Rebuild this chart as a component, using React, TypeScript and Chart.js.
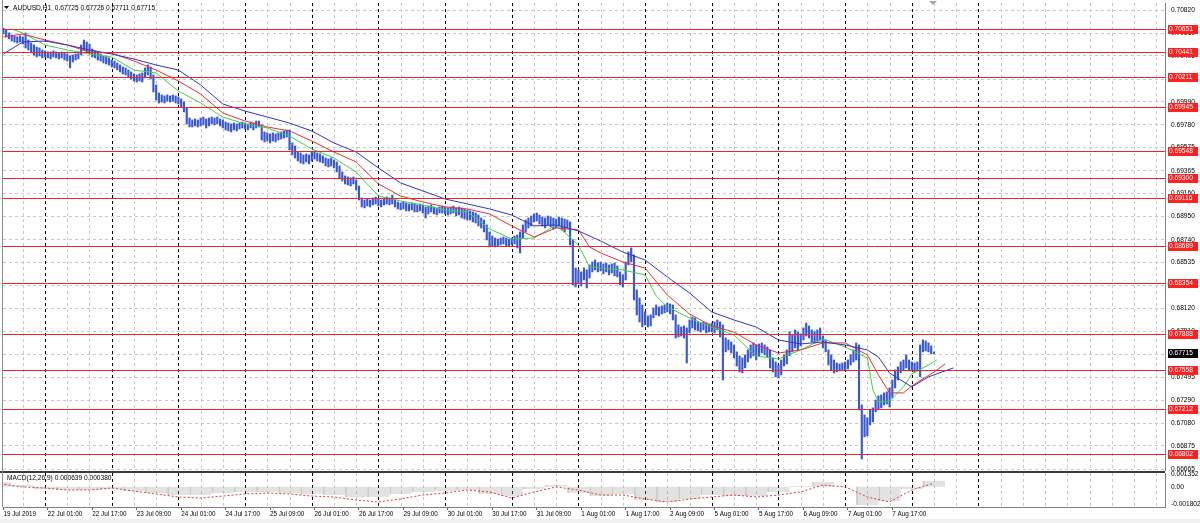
import React, { useEffect, useRef } from 'react';
import { Chart, registerables } from 'chart.js';

Chart.register(...registerables);

// ---------- DATA ----------
const symbolTitle = 'AUDUSD,H1';
const lastOHLC = [0.67725, 0.67726, 0.67711, 0.67715];
const currentPrice = 0.67715;

// hourly bars (index 0 = 19 Jul 2019 08:00)
const barHighs = [
  0.70640, 0.70658, 0.70640, 0.70613, 0.70595, 0.70586, 0.70577, 0.70586, 0.70577, 0.70613, 0.70549, 0.70522, 0.70504, 0.70486, 0.70477, 0.70459,
  0.70450, 0.70441, 0.70441, 0.70450, 0.70441, 0.70432, 0.70441, 0.70432, 0.70423, 0.70405, 0.70414, 0.70423, 0.70441, 0.70504, 0.70549, 0.70531, 0.70513, 0.70468, 0.70450, 0.70432, 0.70423, 0.70405, 0.70396, 0.70387,
  0.70368, 0.70359, 0.70341, 0.70323, 0.70305, 0.70296, 0.70278, 0.70260, 0.70242, 0.70233, 0.70242, 0.70251, 0.70296, 0.70323, 0.70305, 0.70233, 0.70142, 0.70070, 0.70052, 0.70043, 0.70052, 0.70043, 0.70052, 0.70043,
  0.70034, 0.70016, 0.69988, 0.69934, 0.69843, 0.69825, 0.69834, 0.69825, 0.69843, 0.69852, 0.69834, 0.69843, 0.69852, 0.69843, 0.69852, 0.69834, 0.69825, 0.69807, 0.69798, 0.69789, 0.69798, 0.69789, 0.69798, 0.69807,
  0.69798, 0.69789, 0.69807, 0.69798, 0.69816, 0.69816, 0.69780, 0.69717, 0.69708, 0.69699, 0.69708, 0.69699, 0.69708, 0.69717, 0.69726, 0.69735, 0.69735, 0.69617, 0.69590, 0.69536, 0.69527, 0.69509, 0.69518, 0.69509,
  0.69536, 0.69545, 0.69527, 0.69518, 0.69500, 0.69482, 0.69473, 0.69482, 0.69463, 0.69445, 0.69409, 0.69355, 0.69319, 0.69310, 0.69301, 0.69310, 0.69282, 0.69228, 0.69119, 0.69101, 0.69110, 0.69101, 0.69119, 0.69128,
  0.69110, 0.69101, 0.69119, 0.69128, 0.69119, 0.69146, 0.69101, 0.69083, 0.69074, 0.69083, 0.69074, 0.69065, 0.69074, 0.69065, 0.69056, 0.69065, 0.69056, 0.69038, 0.69047, 0.69056, 0.69038, 0.69029, 0.69038, 0.69047,
  0.69038, 0.69029, 0.69038, 0.69047, 0.69029, 0.69038, 0.69029, 0.69020, 0.69011, 0.69002, 0.68993, 0.68984, 0.68966, 0.68938, 0.68920, 0.68875, 0.68812, 0.68775, 0.68757, 0.68748, 0.68757, 0.68766, 0.68757, 0.68748,
  0.68757, 0.68775, 0.68784, 0.68812, 0.68875, 0.68920, 0.68938, 0.68956, 0.68974, 0.68983, 0.68965, 0.68947, 0.68938, 0.68956, 0.68947, 0.68938, 0.68929, 0.68947, 0.68938, 0.68929, 0.68920, 0.68902, 0.68739, 0.68486,
  0.68468, 0.68450, 0.68486, 0.68468, 0.68513, 0.68540, 0.68558, 0.68531, 0.68540, 0.68522, 0.68531, 0.68513, 0.68522, 0.68531, 0.68504, 0.68450, 0.68423, 0.68540, 0.68631, 0.68667, 0.68604, 0.68287, 0.68214, 0.68151,
  0.68088, 0.68052, 0.68061, 0.68124, 0.68151, 0.68133, 0.68142, 0.68151, 0.68169, 0.68160, 0.68151, 0.68061, 0.67970, 0.67952, 0.67961, 0.67943, 0.68015, 0.68042, 0.68033, 0.67997, 0.67988, 0.67997, 0.67988, 0.67979,
  0.67988, 0.67997, 0.68015, 0.67997, 0.67970, 0.67852, 0.67834, 0.67816, 0.67789, 0.67726, 0.67690, 0.67672, 0.67699, 0.67744, 0.67789, 0.67807, 0.67789, 0.67798, 0.67807, 0.67789, 0.67771, 0.67744, 0.67672, 0.67635,
  0.67608, 0.67653, 0.67699, 0.67744, 0.67907, 0.67880, 0.67925, 0.67907, 0.67889, 0.67943, 0.67988, 0.67961, 0.67925, 0.67907, 0.67925, 0.67943, 0.67870, 0.67834, 0.67744, 0.67699, 0.67653, 0.67626, 0.67617, 0.67626,
  0.67635, 0.67653, 0.67699, 0.67744, 0.67807, 0.67789, 0.67246, 0.67156, 0.67129, 0.67201, 0.67219, 0.67291, 0.67327, 0.67336, 0.67355, 0.67364, 0.67400, 0.67472, 0.67563, 0.67590, 0.67635, 0.67653, 0.67699, 0.67653,
  0.67635, 0.67626, 0.67635, 0.67789, 0.67834, 0.67825, 0.67807, 0.67780, 0.67726,
];
const barLows = [
  0.70586, 0.70604, 0.70577, 0.70559, 0.70540, 0.70531, 0.70522, 0.70531, 0.70513, 0.70477, 0.70459, 0.70432, 0.70414, 0.70396, 0.70405, 0.70387,
  0.70396, 0.70387, 0.70378, 0.70396, 0.70387, 0.70378, 0.70387, 0.70368, 0.70359, 0.70296, 0.70350, 0.70368, 0.70378, 0.70414, 0.70459, 0.70441, 0.70423, 0.70396, 0.70387, 0.70368, 0.70359, 0.70341, 0.70332, 0.70323,
  0.70305, 0.70296, 0.70278, 0.70260, 0.70242, 0.70233, 0.70215, 0.70197, 0.70178, 0.70169, 0.70178, 0.70169, 0.70206, 0.70233, 0.70197, 0.70079, 0.70006, 0.69979, 0.69988, 0.69979, 0.69997, 0.69988, 0.69997, 0.69979,
  0.69970, 0.69943, 0.69898, 0.69789, 0.69762, 0.69762, 0.69771, 0.69762, 0.69771, 0.69780, 0.69753, 0.69771, 0.69789, 0.69780, 0.69789, 0.69771, 0.69753, 0.69735, 0.69726, 0.69717, 0.69735, 0.69726, 0.69744, 0.69753,
  0.69744, 0.69735, 0.69753, 0.69735, 0.69753, 0.69762, 0.69644, 0.69626, 0.69635, 0.69617, 0.69635, 0.69626, 0.69644, 0.69653, 0.69662, 0.69671, 0.69554, 0.69509, 0.69481, 0.69454, 0.69436, 0.69427, 0.69445, 0.69427,
  0.69454, 0.69472, 0.69454, 0.69445, 0.69436, 0.69409, 0.69400, 0.69409, 0.69391, 0.69355, 0.69300, 0.69273, 0.69246, 0.69237, 0.69228, 0.69246, 0.69192, 0.69101, 0.69038, 0.69029, 0.69047, 0.69038, 0.69056, 0.69065,
  0.69047, 0.69038, 0.69056, 0.69065, 0.69056, 0.69065, 0.69038, 0.69020, 0.69011, 0.69020, 0.69002, 0.69002, 0.69011, 0.68993, 0.68993, 0.69002, 0.68984, 0.68938, 0.68975, 0.68993, 0.68975, 0.68966, 0.68984, 0.68984,
  0.68975, 0.68966, 0.68975, 0.68984, 0.68957, 0.68966, 0.68938, 0.68929, 0.68920, 0.68920, 0.68902, 0.68893, 0.68866, 0.68848, 0.68812, 0.68739, 0.68676, 0.68685, 0.68676, 0.68685, 0.68694, 0.68703, 0.68685, 0.68685,
  0.68694, 0.68703, 0.68667, 0.68621, 0.68757, 0.68812, 0.68848, 0.68866, 0.68902, 0.68911, 0.68884, 0.68866, 0.68848, 0.68875, 0.68857, 0.68839, 0.68848, 0.68866, 0.68830, 0.68812, 0.68848, 0.68694, 0.68332, 0.68314,
  0.68341, 0.68323, 0.68377, 0.68305, 0.68395, 0.68450, 0.68468, 0.68450, 0.68459, 0.68432, 0.68450, 0.68423, 0.68441, 0.68414, 0.68405, 0.68332, 0.68314, 0.68377, 0.68513, 0.68540, 0.68196, 0.68060, 0.67997, 0.67952,
  0.67970, 0.67952, 0.67961, 0.68033, 0.68061, 0.68052, 0.68070, 0.68079, 0.68088, 0.68070, 0.68015, 0.67852, 0.67861, 0.67870, 0.67852, 0.67626, 0.67898, 0.67943, 0.67925, 0.67916, 0.67907, 0.67925, 0.67898, 0.67907,
  0.67907, 0.67898, 0.67925, 0.67861, 0.67472, 0.67726, 0.67744, 0.67717, 0.67671, 0.67599, 0.67545, 0.67536, 0.67581, 0.67635, 0.67671, 0.67690, 0.67653, 0.67690, 0.67717, 0.67699, 0.67681, 0.67581, 0.67545, 0.67500,
  0.67490, 0.67518, 0.67599, 0.67617, 0.67690, 0.67726, 0.67762, 0.67744, 0.67780, 0.67834, 0.67870, 0.67852, 0.67816, 0.67807, 0.67825, 0.67834, 0.67762, 0.67726, 0.67608, 0.67563, 0.67536, 0.67545, 0.67554, 0.67563,
  0.67563, 0.67572, 0.67608, 0.67635, 0.67653, 0.67201, 0.66757, 0.66957, 0.66966, 0.67065, 0.67092, 0.67183, 0.67201, 0.67219, 0.67246, 0.67255, 0.67228, 0.67310, 0.67400, 0.67472, 0.67536, 0.67563, 0.67581, 0.67554,
  0.67554, 0.67545, 0.67563, 0.67500, 0.67726, 0.67735, 0.67726, 0.67708, 0.67711,
];

// moving averages as [bar index, price]
const maSlow = [
  [1, 0.70422], [8, 0.70531], [16, 0.70540], [24, 0.70504], [32, 0.70459], [40, 0.70422], [48, 0.70377], [56, 0.70323],
  [64, 0.70277], [72, 0.70142], [80, 0.69970], [88, 0.69906], [96, 0.69852], [104, 0.69797], [112, 0.69726], [120, 0.69617],
  [128, 0.69535], [136, 0.69391], [144, 0.69255], [152, 0.69183], [160, 0.69110], [168, 0.69065], [176, 0.69020], [184, 0.68965],
  [192, 0.68866], [200, 0.68875], [208, 0.68821], [216, 0.68730], [224, 0.68630], [232, 0.68558], [240, 0.68404], [248, 0.68259],
  [256, 0.68087], [264, 0.68015], [272, 0.67951], [280, 0.67834], [288, 0.67798], [296, 0.67816], [304, 0.67789], [312, 0.67744],
  [316, 0.67680], [320, 0.67535], [328, 0.67409], [334, 0.67500], [343, 0.67581],
];
const maMid = [
  [1, 0.70576], [8, 0.70603], [16, 0.70549], [24, 0.70504], [32, 0.70440], [40, 0.70430], [48, 0.70359], [56, 0.70277],
  [64, 0.70178], [72, 0.70060], [80, 0.69888], [88, 0.69816], [96, 0.69762], [104, 0.69726], [112, 0.69635], [120, 0.69535],
  [128, 0.69445], [136, 0.69246], [144, 0.69137], [152, 0.69083], [160, 0.69038], [168, 0.69020], [176, 0.68975], [184, 0.68866],
  [192, 0.68766], [200, 0.68848], [208, 0.68830], [212, 0.68676], [216, 0.68621], [224, 0.68540], [232, 0.68485], [240, 0.68241],
  [248, 0.68069], [256, 0.67961], [264, 0.67906], [272, 0.67789], [280, 0.67716], [288, 0.67744], [296, 0.67807], [304, 0.67807],
  [312, 0.67698], [316, 0.67517], [320, 0.67355], [325, 0.67355], [328, 0.67418], [336, 0.67544], [340, 0.67617],
];
const maFast = [
  [5, 0.70640], [8, 0.70612], [16, 0.70504], [24, 0.70459], [32, 0.70422], [40, 0.70395], [48, 0.70277], [56, 0.70250],
  [64, 0.70087], [72, 0.69979], [80, 0.69852], [88, 0.69789], [96, 0.69753], [104, 0.69680], [112, 0.69563], [120, 0.69481],
  [128, 0.69354], [136, 0.69137], [144, 0.69092], [152, 0.69056], [160, 0.69011], [168, 0.68993], [176, 0.68839], [184, 0.68748],
  [192, 0.68757], [200, 0.68875], [208, 0.68694], [212, 0.68495], [216, 0.68485], [224, 0.68468], [232, 0.68422], [236, 0.68232],
  [240, 0.68133], [248, 0.68033], [256, 0.67951], [264, 0.67879], [272, 0.67689], [280, 0.67662], [288, 0.67744], [296, 0.67843],
  [304, 0.67771], [312, 0.67671], [314, 0.67382], [316, 0.67273], [320, 0.67282], [325, 0.67409], [328, 0.67526], [334, 0.67608],
  [337, 0.67653],
];

// horizontal levels (red lines)
const levelPrices = [0.70651, 0.70441, 0.70211, 0.69945, 0.69548, 0.69300, 0.69116, 0.68689, 0.68354, 0.67888, 0.67558, 0.67212, 0.66802];

// price axis
const priceTicks = [
  0.70820, 0.70610, 0.70405, 0.70195, 0.69990, 0.69780, 0.69575, 0.69365, 0.69160, 0.68950, 0.68740,
  0.68535, 0.68325, 0.68120, 0.67910, 0.67705, 0.67495, 0.67290, 0.67080, 0.66875, 0.66665,
];

// MACD(12,26,9) sampled every 8 bars
const macdBars = [0, 8, 16, 24, 32, 40, 48, 56, 64, 72, 80, 88, 96, 104, 112, 120, 128, 136, 144, 152, 160, 168,
  176, 184, 192, 200, 208, 216, 224, 232, 240, 248, 256, 264, 272, 280, 288, 296, 304, 312, 320, 328, 336];
const macdMain = [0.00050, 0.00018, -0.00024, -0.00035, -0.00035, -0.00024, -0.00046, -0.00067, -0.00088, -0.00088,
  -0.00067, -0.00056, -0.00056, -0.00067, -0.00077, -0.00088, -0.00109, -0.00109, -0.00077, -0.00056, -0.00046,
  -0.00035, -0.00077, -0.00099, -0.00024, 0.00018, -0.00067, -0.00099, -0.00077, -0.00141, -0.00162, -0.00130,
  -0.00088, -0.00099, -0.00099, -0.00056, 0.00007, 0.00050, -0.00003, -0.00194, -0.00152, -0.00024, 0.000639];
const macdSignal = [0.00029, -0.00003, -0.00014, -0.00035, -0.00035, -0.00014, -0.00046, -0.00077, -0.00109, -0.00120,
  -0.00099, -0.00077, -0.00067, -0.00077, -0.00099, -0.00109, -0.00141, -0.00162, -0.00130, -0.00088, -0.00067,
  -0.00035, -0.00056, -0.00120, -0.00056, -0.00003, -0.00035, -0.00088, -0.00088, -0.00130, -0.00162, -0.00130,
  -0.00109, -0.00088, -0.00109, -0.00088, -0.00056, 0.00018, -0.00003, -0.00109, -0.00162, -0.00035, 0.000380];
const macdTicks = [0.001352, 0, -0.001802];
const macdTickLabels = ['0.001352', '0.00', '-0.001802'];

// time axis
const timeLabelBars = [1, 17, 33, 49, 65, 81, 97, 113, 129, 145, 161, 177, 193, 209, 225, 241, 257, 273, 289, 305, 321];
const timeLabels = ['19 Jul 2019', '22 Jul 01:00', '22 Jul 17:00', '23 Jul 09:00', '24 Jul 01:00', '24 Jul 17:00',
  '25 Jul 09:00', '26 Jul 01:00', '26 Jul 17:00', '29 Jul 09:00', '30 Jul 01:00', '30 Jul 17:00', '31 Jul 09:00',
  '1 Aug 01:00', '1 Aug 17:00', '2 Aug 09:00', '5 Aug 01:00', '5 Aug 17:00', '6 Aug 09:00', '7 Aug 01:00', '7 Aug 17:00'];
const daySeparatorBars = [16, 40, 64, 88, 112, 136, 160, 184, 208, 232, 256, 280, 304, 328, 352];

// ---------- LAYOUT / STYLE ----------
const X_MIN = 0.864;
const X_MAX = 419.15;
const FONT = '"Liberation Sans", Arial, sans-serif';
const GRID_GRAY = '#c8c8c8';

const gridBars: number[] = [];
for (let b = 0; b <= 416; b += 8) gridBars.push(b);

const zeroPad = (s: any) => {
  s.paddingLeft = 0; s.paddingRight = 0; s.paddingTop = 0; s.paddingBottom = 0;
};

const bgPlugin = {
  id: 'bg',
  beforeDraw(chart: any) {
    const { ctx, width, height } = chart;
    ctx.save();
    ctx.fillStyle = '#ffffff';
    ctx.fillRect(0, 0, width, height);
    ctx.restore();
  },
};

const vGridPlugin = {
  id: 'vgrid',
  beforeDatasetsDraw(chart: any) {
    const { ctx, chartArea: a, scales } = chart;
    const x = scales.x;
    ctx.save();
    ctx.beginPath();
    ctx.rect(a.left, a.top, a.right - a.left, a.bottom - a.top);
    ctx.clip();
    ctx.lineWidth = 1;
    ctx.setLineDash([3, 3]);
    ctx.strokeStyle = GRID_GRAY;
    for (const b of gridBars) {
      const px = Math.round(x.getPixelForValue(b)) + 0.5;
      ctx.beginPath(); ctx.moveTo(px, a.top); ctx.lineTo(px, a.bottom); ctx.stroke();
    }
    ctx.strokeStyle = '#000000';
    for (const b of daySeparatorBars) {
      const px = Math.round(x.getPixelForValue(b)) + 0.5;
      ctx.beginPath(); ctx.moveTo(px, a.top); ctx.lineTo(px, a.bottom); ctx.stroke();
    }
    ctx.restore();
  },
};

const levelsPlugin = {
  id: 'levels',
  afterDatasetsDraw(chart: any) {
    const { ctx, chartArea: a, scales } = chart;
    ctx.save();
    ctx.strokeStyle = '#e62828';
    ctx.lineWidth = 1;
    for (const p of levelPrices) {
      const py = Math.round(scales.y.getPixelForValue(p)) + 0.5;
      ctx.beginPath(); ctx.moveTo(a.left, py); ctx.lineTo(a.right, py); ctx.stroke();
    }
    ctx.restore();
  },
  afterDraw(chart: any) {
    const { ctx, chartArea: a, scales } = chart;
    ctx.save();
    ctx.font = `6.6px ${FONT}`;
    ctx.textBaseline = 'middle';
    ctx.textAlign = 'left';
    const box = (p: number, bg: string) => {
      const py = Math.round(scales.y.getPixelForValue(p));
      ctx.fillStyle = bg;
      ctx.fillRect(a.right + 3, py - 4, 30, 9);
      ctx.fillStyle = '#ffffff';
      ctx.fillText(p.toFixed(5), a.right + 4, py + 0.5);
    };
    for (const p of levelPrices) box(p, '#ff2020');
    box(currentPrice, '#000000');
    // header
    ctx.fillStyle = '#000000';
    ctx.beginPath(); ctx.moveTo(4, 6); ctx.lineTo(9, 6); ctx.lineTo(6.5, 9); ctx.closePath(); ctx.fill();
    ctx.font = `6.6px ${FONT}`;
    ctx.fillText(`${symbolTitle}  ${lastOHLC.map((v) => v.toFixed(5)).join(' ')}`, 13, 8.5);
    // chart shift marker
    ctx.fillStyle = '#a8a8a8';
    ctx.beginPath(); ctx.moveTo(929, 1); ctx.lineTo(937, 1); ctx.lineTo(933, 5); ctx.closePath(); ctx.fill();
    // left border
    ctx.fillStyle = '#8c8c8c';
    ctx.fillRect(2, 0, 1, chart.height);
    ctx.restore();
  },
};

const macdDecorPlugin = {
  id: 'macdDecor',
  afterDraw(chart: any) {
    const { ctx, chartArea: a } = chart;
    ctx.save();
    ctx.fillStyle = '#3a3a3a';
    ctx.fillRect(0, 0, a.right, 2);
    ctx.fillStyle = '#8c8c8c';
    ctx.fillRect(2, 0, 1, a.bottom);
    ctx.fillStyle = '#f0f0f0';
    ctx.fillRect(0, 48, chart.width, chart.height - 48);
    ctx.fillStyle = '#000000';
    ctx.font = `6.6px ${FONT}`;
    ctx.textBaseline = 'middle';
    ctx.textAlign = 'left';
    const n = macdMain.length - 1;
    ctx.fillText(`MACD(12,26,9) ${macdMain[n].toFixed(6)} ${macdSignal[n].toFixed(6)}`, 7, 7.5);
    ctx.restore();
  },
};

function buildMain(canvas: HTMLCanvasElement) {
  const barData = barHighs.map((h, i) => ({ x: i, y: [barLows[i], h] }));
  const toXY = (pairs: number[][]) => pairs.map(([x, y]) => ({ x, y }));
  return new Chart(canvas, {
    type: 'bar',
    data: {
      datasets: [
        { type: 'line', data: toXY(maSlow), borderColor: '#3434c8', borderWidth: 1, pointRadius: 0, tension: 0, order: 1 } as any,
        { type: 'line', data: toXY(maMid), borderColor: '#e63232', borderWidth: 1, pointRadius: 0, tension: 0, order: 1 } as any,
        { type: 'line', data: toXY(maFast), borderColor: '#3ed23e', borderWidth: 1, pointRadius: 0, tension: 0, order: 1 } as any,
        { type: 'bar', data: barData, backgroundColor: '#3858d8', borderWidth: 0, barThickness: 1.5, grouped: false, order: 2 } as any,
      ],
    },
    options: {
      responsive: false,
      animation: false,
      devicePixelRatio: 1,
      events: [],
      layout: { padding: { left: 3, top: 3, right: 0, bottom: 0 } },
      plugins: { legend: { display: false }, tooltip: { enabled: false } },
      scales: {
        x: { type: 'linear', min: X_MIN, max: X_MAX, bounds: 'data', offset: false, display: false, grid: { offset: false } },
        y: {
          type: 'linear', position: 'right', min: 0.66648, max: 0.70884, bounds: 'data',
          afterBuildTicks: (s: any) => { s.ticks = priceTicks.map((v) => ({ value: v })); },
          afterFit: (s: any) => { s.width = 35; zeroPad(s); },
          ticks: {
            autoSkip: false, padding: 6, color: '#000000',
            font: { family: FONT, size: 6.6 },
            callback: (v: any) => Number(v).toFixed(5),
          },
          grid: { color: GRID_GRAY, drawTicks: false, lineWidth: 1 },
          border: { display: true, color: '#808080', width: 1, dash: [3, 3] },
        },
      },
    } as any,
    plugins: [bgPlugin, vGridPlugin, levelsPlugin],
  });
}

function buildMacd(canvas: HTMLCanvasElement) {
  return new Chart(canvas, {
    type: 'bar',
    data: {
      datasets: [
        {
          type: 'line', data: macdBars.map((b, k) => ({ x: b, y: macdSignal[k] })),
          borderColor: '#e03c3c', borderWidth: 1, borderDash: [2, 2], pointRadius: 0, tension: 0, order: 1,
        } as any,
        {
          type: 'bar', data: macdBars.map((b, k) => ({ x: b, y: macdMain[k] })),
          backgroundColor: 'rgba(160,160,160,0.30)', borderColor: 'rgba(150,150,150,0.45)', borderWidth: { left: 1, right: 0, top: 0, bottom: 0 },
          borderSkipped: false, barThickness: 22, grouped: false, order: 2,
        } as any,
      ],
    },
    options: {
      responsive: false,
      animation: false,
      devicePixelRatio: 1,
      events: [],
      layout: { padding: { left: 3, top: 2, right: 0, bottom: 0 } },
      plugins: { legend: { display: false }, tooltip: { enabled: false } },
      scales: {
        x: {
          type: 'linear', position: 'bottom', min: X_MIN, max: X_MAX, bounds: 'data', offset: false,
          afterBuildTicks: (s: any) => { s.ticks = timeLabelBars.map((v) => ({ value: v })); },
          afterFit: (s: any) => { s.height = 16; zeroPad(s); },
          ticks: {
            autoSkip: false, maxRotation: 0, minRotation: 0, align: 'start', padding: 0, color: '#000000',
            font: { family: FONT, size: 6.3 },
            callback: (_v: any, i: number) => timeLabels[i],
          },
          grid: { drawOnChartArea: false, drawTicks: true, tickLength: 3, tickColor: '#606060', offset: false },
          border: { display: true, color: '#808080', width: 1 },
        },
        y: {
          type: 'linear', position: 'right', min: -0.00215, max: 0.00145, bounds: 'data',
          afterBuildTicks: (s: any) => { s.ticks = macdTicks.map((v) => ({ value: v })); },
          afterFit: (s: any) => { s.width = 35; zeroPad(s); },
          ticks: {
            autoSkip: false, padding: 6, color: '#000000',
            font: { family: FONT, size: 6.6 },
            callback: (_v: any, i: number) => macdTickLabels[i],
          },
          grid: { display: false, drawTicks: false },
          border: { display: true, color: '#808080', width: 1 },
        },
      },
    } as any,
    plugins: [bgPlugin, vGridPlugin, macdDecorPlugin],
  });
}

export default function App() {
  const mainRef = useRef<HTMLCanvasElement>(null);
  const macdRef = useRef<HTMLCanvasElement>(null);
  useEffect(() => {
    const charts: Chart[] = [];
    if (mainRef.current) charts.push(buildMain(mainRef.current));
    if (macdRef.current) charts.push(buildMacd(macdRef.current));
    return () => charts.forEach((c) => c.destroy());
  }, []);
  return (
    <div style={{ position: 'absolute', left: 0, top: 0, width: 1200, height: 523, background: '#ffffff' }}>
      <canvas ref={mainRef} width={1200} height={471} style={{ display: 'block', width: 1200, height: 471 }} />
      <canvas ref={macdRef} width={1200} height={52} style={{ display: 'block', width: 1200, height: 52 }} />
    </div>
  );
}
